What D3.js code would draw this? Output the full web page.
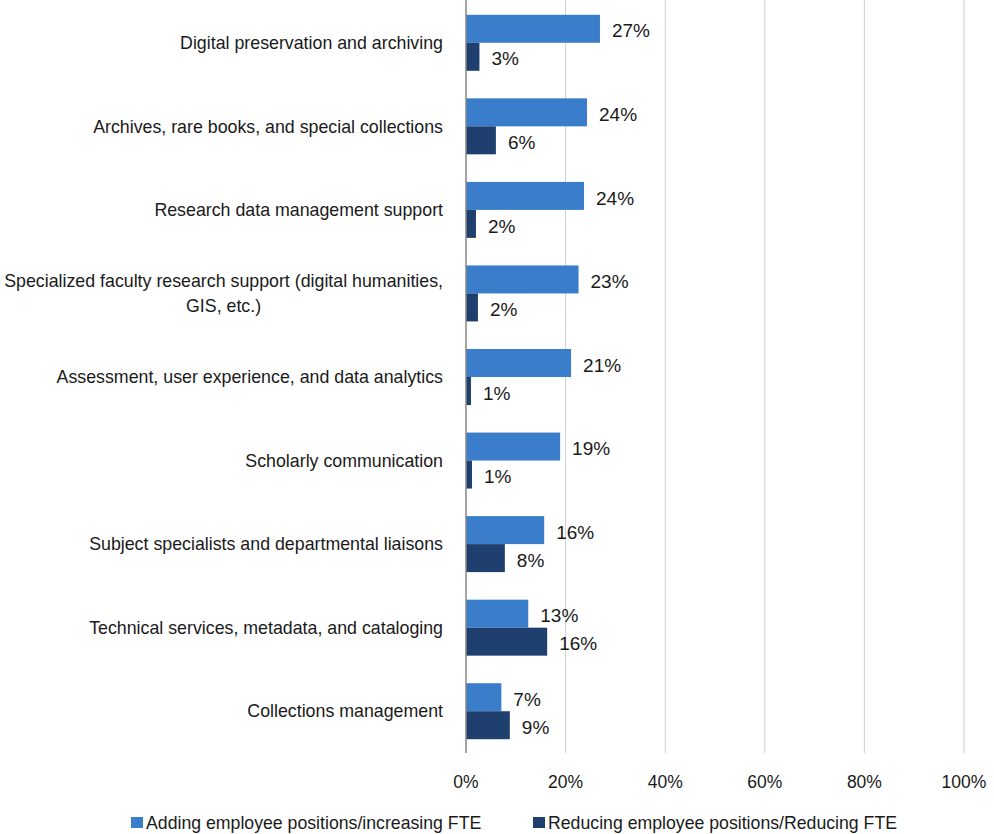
<!DOCTYPE html>
<html>
<head>
<meta charset="utf-8">
<script src="https://cdn.jsdelivr.net/npm/d3@7"></script>
<style>
  body { margin: 0; background: #fff; }
  text { font-family: "Liberation Sans", Arial, sans-serif; fill: #1a1a1a; }
</style>
</head>
<body>
<div id="chart"></div>
<script>
const categories = [
  "Digital preservation and archiving",
  "Archives, rare books, and special collections",
  "Research data management support",
  "Specialized faculty research support (digital humanities,|GIS, etc.)",
  "Assessment, user experience, and data analytics",
  "Scholarly communication",
  "Subject specialists and departmental liaisons",
  "Technical services, metadata, and cataloging",
  "Collections management"
];
const adding   = [26.9, 24.3, 23.7, 22.6, 21.1, 18.9, 15.7, 12.5, 7.1];
const reducing = [2.7, 6.0, 2.0, 2.4, 1.0, 1.2, 7.8, 16.3, 8.8];
const addingLabels   = ["27%", "24%", "24%", "23%", "21%", "19%", "16%", "13%", "7%"];
const reducingLabels = ["3%", "6%", "2%", "2%", "1%", "1%", "8%", "16%", "9%"];
const xTicks = [0, 20, 40, 60, 80, 100];
const seriesNames = ["Adding employee positions/increasing FTE", "Reducing employee positions/Reducing FTE"];
const colors = ["#3a7dca", "#1f3f6e"];

const W = 994, H = 834;
const x0 = 466, x1 = 964, plotTop = 1, plotBottom = 753;

const svg = d3.select("#chart").append("svg")
  .attr("width", W).attr("height", H);

const x = d3.scaleLinear().domain([0, 100]).range([x0, x1]);
const y = d3.scaleBand().domain(categories).range([plotTop, plotBottom]).paddingInner(0.33).paddingOuter(0.165);
const sub = d3.scaleBand().domain([0, 1]).range([0, y.bandwidth()]);

// gridlines
svg.append("g").selectAll("line")
  .data(xTicks.slice(1))
  .join("line")
    .attr("x1", d => x(d)).attr("x2", d => x(d))
    .attr("y1", 0).attr("y2", plotBottom)
    .attr("stroke", "#cfcfcf").attr("stroke-width", 1);

// tick labels
svg.append("g").selectAll("text")
  .data(xTicks)
  .join("text")
    .attr("x", d => x(d))
    .attr("y", 782)
    .attr("dy", "0.35em")
    .attr("text-anchor", "middle")
    .style("font-size", "17.5px")
    .text(d => d + "%");

const rows = categories.map((c, i) => ({c, a: adding[i], r: reducing[i], al: addingLabels[i], rl: reducingLabels[i]}));

const g = svg.append("g");
rows.forEach(d => {
  const vals = [[d.a, d.al], [d.r, d.rl]];
  vals.forEach((v, k) => {
    const yy = y(d.c) + sub(k);
    g.append("rect")
      .attr("x", x(0))
      .attr("y", yy)
      .attr("width", x(v[0]) - x(0))
      .attr("height", sub.bandwidth())
      .attr("fill", colors[k]);
    g.append("text")
      .attr("x", x(v[0]) + 12)
      .attr("y", yy + sub.bandwidth() / 2 + 2)
      .attr("dy", "0.35em")
      .style("font-size", "19px")
      .text(v[1]);
  });
});

// axis line
svg.append("line")
  .attr("x1", x0).attr("x2", x0)
  .attr("y1", 0).attr("y2", plotBottom)
  .attr("stroke", "#868686").attr("stroke-width", 1.5);

// category labels
const labelRight = 443;
rows.forEach(d => {
  const lines = d.c.split("|");
  const cy = y(d.c) + y.bandwidth() / 2;
  const t = svg.append("text")
    .style("font-size", "17.8px");
  lines.forEach((ln, j) => {
    t.append("tspan")
      .attr("x", labelRight)
      .attr("y", cy + (j - (lines.length - 1) / 2) * 25)
      .attr("dy", "0.35em")
      .text(ln);
  });
  if (lines.length > 1) {
    const w = d3.max(t.selectAll("tspan").nodes(), n => n.getComputedTextLength());
    t.attr("text-anchor", "middle").selectAll("tspan").attr("x", labelRight - w / 2);
  } else {
    t.attr("text-anchor", "end");
  }
});

// legend
const legX = [131, 533];
seriesNames.forEach((s, k) => {
  svg.append("rect")
    .attr("x", legX[k]).attr("y", 817)
    .attr("width", 12).attr("height", 11)
    .attr("fill", colors[k]);
  svg.append("text")
    .attr("x", legX[k] + 15)
    .attr("y", 823)
    .attr("dy", "0.35em")
    .style("font-size", "17.7px")
    .text(s);
});
</script>
</body>
</html>
